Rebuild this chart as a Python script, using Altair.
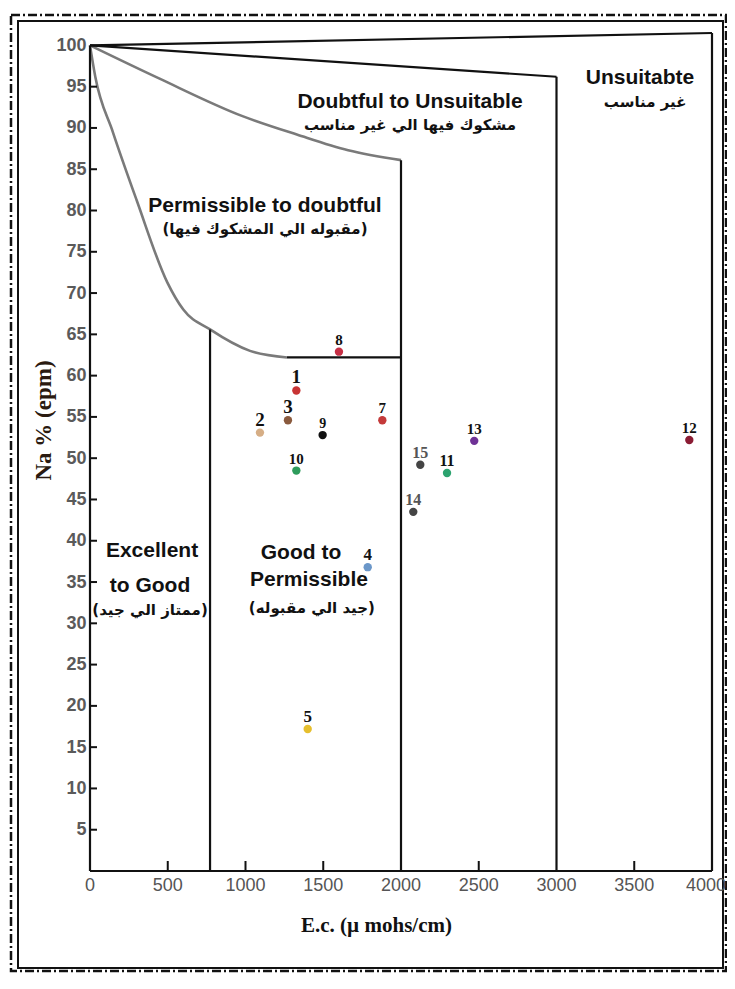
import altair as alt
import pandas as pd

# ---------------- data ----------------
sample_ids = ["1", "2", "3", "4", "5", "7", "8", "9", "10", "11", "12", "13", "14", "15"]
ec_values = [1327, 1093, 1273, 1786, 1400, 1880, 1601, 1496, 1327, 2296, 3854, 2471, 2079, 2124]
na_percent = [58.2, 53.1, 54.6, 36.8, 17.2, 54.6, 62.9, 52.8, 48.5, 48.2, 52.2, 52.1, 43.5, 49.2]

point_colors = ["#c83434", "#d6ae86", "#8a5a3e", "#6b97c9", "#e6bf2e", "#c43a3a", "#c62f45",
                "#111111", "#2e9c5c", "#2ca36f", "#8b1c34", "#6f3296", "#444444", "#444444"]
label_sizes = [19, 19, 19, 17, 17, 15, 15, 14, 15, 16, 15, 15, 16, 16]
label_colors = ["#111111"] * 12 + ["#555555", "#555555"]

x_tick_values = [0, 500, 1000, 1500, 2000, 2500, 3000, 3500]
x_last_tick = [4000]
y_tick_values = [5, 10, 15, 20, 25, 30, 35, 40, 45, 50, 55, 60, 65, 70, 75, 80, 85, 90, 95, 100]
inner_y_ticks = [5, 10, 15, 20, 25, 30, 35, 40, 45, 50, 55, 60, 65, 70, 75, 80, 85, 90, 95]
inner_x_ticks = [500, 1000, 1500, 2500, 3500]

# Wilcox diagram boundaries (E.C., Na%)
black_segments = {
    "yaxis": ([0, 0], [0, 100]),
    "bottom": ([0, 4000], [0, 0]),
    "top": ([0, 4000], [100, 101.5]),
    "right": ([4000, 4000], [101.5, 0]),
    "diag": ([0, 3000], [100, 96.2]),
    "v3000": ([3000, 3000], [96.2, 0]),
    "v2000": ([2000, 2000], [86.1, 0]),
    "flat": ([1267, 2000], [62.2, 62.2]),
    "v750": ([772, 772], [65.6, 0]),
}
upper_curve_x = [0, 444, 985, 1330, 1660, 2000]
upper_curve_y = [100, 96.0, 91.4, 89.2, 87.3, 86.1]
lower_curve_x = [0, 34, 147, 299, 497, 600, 772, 1029, 1267]
lower_curve_y = [100, 96.2, 89.5, 81.3, 71.3, 68.0, 65.6, 63.0, 62.2]

en_labels = ["Doubtful to Unsuitable", "Unsuitabte", "Permissible to doubtful",
             "Excellent", "to Good", "Good to", "Permissible"]
en_x = [2058, 3537, 1125, 399, 386, 1357, 1408]
en_y = [93.2, 96.1, 80.5, 38.8, 34.5, 38.5, 35.3]
ar_labels = ["مشكوك فيها الي غير مناسب", "غير مناسب", "(مقبوله الي المشكوك فيها)",
             "(ممتاز الي جيد)", "(جيد الي مقبوله)"]
ar_x = [2058, 3570, 1125, 386, 1427]
ar_y = [90.3, 93.2, 77.8, 31.6, 31.9]

# ---------------- tables ----------------
points = pd.DataFrame({"id": sample_ids, "x": ec_values, "y": na_percent,
                       "lsize": label_sizes, "lcolor": label_colors})

rows = []
for name, (xs, ys) in black_segments.items():
    for i, (xv, yv) in enumerate(zip(xs, ys)):
        rows.append({"seg": name, "x": xv, "y": yv, "o": i})
black_df = pd.DataFrame(rows)

curve_rows = []
for i, (xv, yv) in enumerate(zip(upper_curve_x, upper_curve_y)):
    curve_rows.append({"seg": "upper", "x": xv, "y": yv, "o": i})
for i, (xv, yv) in enumerate(zip(lower_curve_x, lower_curve_y)):
    curve_rows.append({"seg": "lower", "x": xv, "y": yv, "o": i})
curve_df = pd.DataFrame(curve_rows)

en_df = pd.DataFrame({"x": en_x, "y": en_y, "t": en_labels})
ar_df = pd.DataFrame({"x": ar_x, "y": ar_y, "t": ar_labels})
ytick_df = pd.DataFrame({"y": inner_y_ticks})
xtick_df = pd.DataFrame({"x": inner_x_ticks})
xlab_df = pd.DataFrame({"x": x_tick_values, "t": [str(v) for v in x_tick_values]})
xlast_df = pd.DataFrame({"x": x_last_tick, "t": [str(v) for v in x_last_tick]})

W, H = 622, 838

X = alt.X("x:Q", scale=alt.Scale(domain=[0, 4000], nice=False, zero=False),
          axis=alt.Axis(values=x_tick_values, title="E.c. (µ mohs/cm)", grid=False,
                        domain=False, ticks=False, tickSize=0, labels=False,
                        titleFont="Liberation Serif", titleFontSize=21, titleFontWeight="bold",
                        titleColor="#111111", titleX=286, titleY=54, titleBaseline="middle",
                        titleAlign="center"))
Y = alt.Y("y:Q", scale=alt.Scale(domain=[0, 101.5], nice=False, zero=False),
          axis=alt.Axis(values=y_tick_values, format="d", title="Na % (epm)", grid=False,
                        domain=False, ticks=False, tickSize=0, labelFlush=False,
                        labelFont="Liberation Sans", labelFontSize=18, labelColor="#5a5a5a",
                        labelFontWeight="bold", labelPadding=4,
                        titleFont="Liberation Serif", titleFontSize=23, titleFontWeight="bold",
                        titleColor="#2a1a10", titleX=-47, titleY=387, titleAngle=270,
                        titleBaseline="middle", titleAlign="center"))

frame_data = alt.Data(values=[{}])
outer = alt.Chart(frame_data).mark_rect(fillOpacity=0, stroke="#111111", strokeWidth=2.5,
                                         strokeDash=[9, 3, 2, 3]).encode(
    x=alt.value(-79), x2=alt.value(636), y=alt.value(-18), y2=alt.value(938))
inner = alt.Chart(frame_data).mark_rect(fillOpacity=0, stroke="#111111", strokeWidth=2).encode(
    x=alt.value(-72), x2=alt.value(633), y=alt.value(-12), y2=alt.value(935))

black_lines = alt.Chart(black_df).mark_line(color="#111111", strokeWidth=2.2).encode(
    x=X, y=Y, detail="seg:N", order="o:Q")
gray_lines = alt.Chart(curve_df).mark_line(color="#7a7a7a", strokeWidth=2.6,
                                           interpolate="monotone").encode(
    x=X, y=Y, detail="seg:N", order="o:Q")

yticks = alt.Chart(ytick_df).mark_rule(color="#111111", strokeWidth=2).encode(
    y=Y, x=alt.value(0), x2=alt.value(7))
xticks = alt.Chart(xtick_df).mark_rule(color="#111111", strokeWidth=2).encode(
    x=X, y=alt.value(H), y2=alt.value(H - 10))

xlabels = alt.Chart(xlab_df).mark_text(font="Liberation Sans", fontSize=18, color="#555555",
                                       baseline="middle", align="center").encode(
    x=X, y=alt.value(H + 15), text="t:N")
xlast = alt.Chart(xlast_df).mark_text(font="Liberation Sans", fontSize=18, color="#555555",
                                      baseline="middle", align="right", dx=14).encode(
    x=X, y=alt.value(H + 15), text="t:N")

en_text = alt.Chart(en_df).mark_text(font="Liberation Sans", fontWeight="bold", fontSize=21,
                                     color="#111111", baseline="middle", align="center").encode(
    x=X, y=Y, text="t:N")
ar_text = alt.Chart(ar_df).mark_text(font="DejaVu Sans", fontWeight="bold", fontSize=15,
                                     color="#111111", baseline="middle", align="center").encode(
    x=X, y=Y, text="t:N")

dots = alt.Chart(points).mark_circle(size=70, opacity=1).encode(
    x=X, y=Y,
    color=alt.Color("id:N", scale=alt.Scale(domain=sample_ids, range=point_colors), legend=None))
dot_labels = alt.Chart(points).mark_text(font="Liberation Serif", fontWeight="bold",
                                         baseline="alphabetic", align="center", dy=-7).encode(
    x=X, y=Y, text="id:N",
    size=alt.Size("lsize:Q", scale=None, legend=None),
    color=alt.Color("lcolor:N", scale=None, legend=None))

chart = alt.layer(outer, inner, gray_lines, black_lines, yticks, xticks, xlabels, xlast,
                  en_text, ar_text, dots, dot_labels).properties(
    width=W, height=H,
    autosize=alt.AutoSizeParams(type="none"),
    padding={"left": 82, "top": 25, "right": 15, "bottom": 103},
    background="white",
).configure_view(strokeWidth=0)

chart.save("out.html", embed_options={"renderer": "svg", "actions": False})
